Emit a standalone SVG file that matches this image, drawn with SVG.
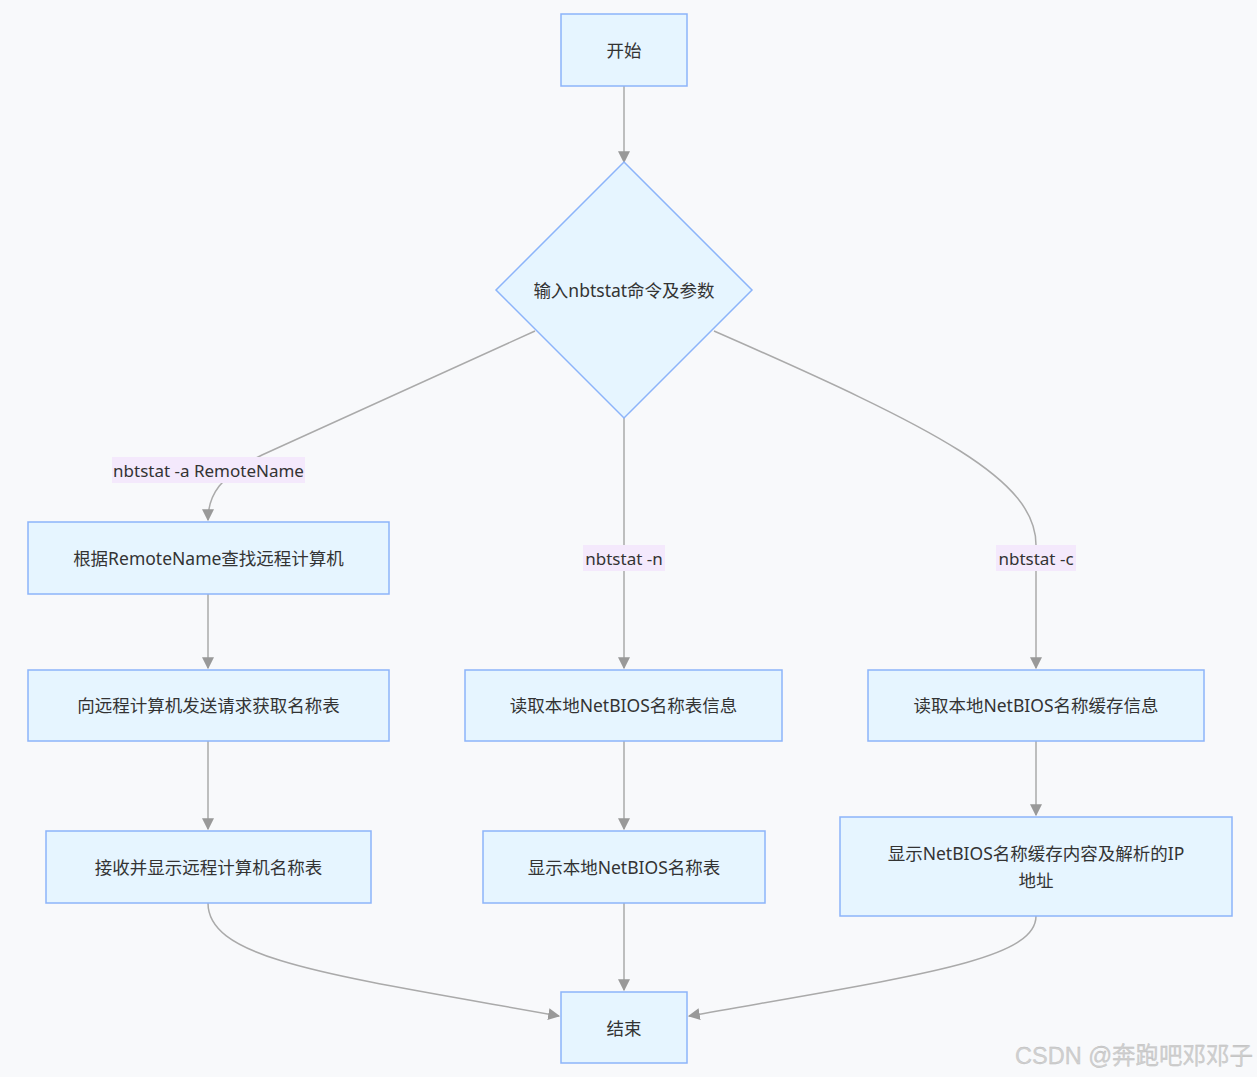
<svg xmlns="http://www.w3.org/2000/svg" width="1257" height="1077" viewBox="0 0 1257 1077">
<defs>
<style>
.node rect, .node polygon { fill:#e6f5ff; stroke:#8cb4fa; stroke-width:1.5; }
.node text { font-family:"Noto Sans","Noto Sans CJK SC",sans-serif; font-size:17.5px; fill:#333; text-anchor:middle; dominant-baseline:central; }
.edge { fill:none; stroke:#aaaaaa; stroke-width:1.5; }
.lbl rect { fill:#f4e9fc; }
.lbl text { font-family:"Noto Sans","Noto Sans CJK SC",sans-serif; font-size:17px; fill:#333; text-anchor:middle; dominant-baseline:central; }
</style>
<marker id="arr" viewBox="0 0 10 10" refX="9" refY="5" markerWidth="12" markerHeight="12" markerUnits="userSpaceOnUse" orient="auto">
<path d="M0,0 L10,5 L0,10 z" fill="#999999"/>
</marker>
</defs>
<rect width="1257" height="1077" fill="#f8f9fb"/>
<g id="connectors">
<path class="edge" d="M624,86 L624,162" marker-end="url(#arr)"/>
<path class="edge" d="M535,331 L262,455 C220,476 208,495 208,520" marker-end="url(#arr)"/>
<path class="edge" d="M624,418 L624,668" marker-end="url(#arr)"/>
<path class="edge" d="M714,331 C940,430 1036,480 1036,545 L1036,668" marker-end="url(#arr)"/>
<path class="edge" d="M208,594 L208,668" marker-end="url(#arr)"/>
<path class="edge" d="M208,741 L208,829" marker-end="url(#arr)"/>
<path class="edge" d="M624,741 L624,829" marker-end="url(#arr)"/>
<path class="edge" d="M1036,741 L1036,815" marker-end="url(#arr)"/>
<path class="edge" d="M208,903 C208,960 330,975 559,1016" marker-end="url(#arr)"/>
<path class="edge" d="M624,903 L624,990" marker-end="url(#arr)"/>
<path class="edge" d="M1036,916 C1036,960 920,975 689,1016" marker-end="url(#arr)"/>
<g class="lbl"><rect x="112" y="457" width="193" height="26"/><text x="208.5" y="470">nbtstat -a RemoteName</text></g>
<g class="lbl"><rect x="583" y="545" width="82" height="26"/><text x="624" y="558">nbtstat -n</text></g>
<g class="lbl"><rect x="996" y="545" width="80" height="26"/><text x="1036" y="558">nbtstat -c</text></g>
</g>
<g id="start" class="node"><rect x="561" y="14" width="126" height="72"/><text x="624" y="50">开始</text></g>
<g id="decision" class="node"><polygon points="624,162 752,290 624,418 496,290"/><text x="624" y="290">输入nbtstat命令及参数</text></g>
<g id="left1" class="node"><rect x="28" y="522" width="361" height="72"/><text x="208.5" y="558">根据RemoteName查找远程计算机</text></g>
<g id="left2" class="node"><rect x="28" y="670" width="361" height="71"/><text x="208.5" y="705">向远程计算机发送请求获取名称表</text></g>
<g id="left3" class="node"><rect x="46" y="831" width="325" height="72"/><text x="208.5" y="867">接收并显示远程计算机名称表</text></g>
<g id="mid1" class="node"><rect x="465" y="670" width="317" height="71"/><text x="623.5" y="705">读取本地NetBIOS名称表信息</text></g>
<g id="mid2" class="node"><rect x="483" y="831" width="282" height="72"/><text x="624" y="867">显示本地NetBIOS名称表</text></g>
<g id="right1" class="node"><rect x="868" y="670" width="336" height="71"/><text x="1036" y="705">读取本地NetBIOS名称缓存信息</text></g>
<g id="right2" class="node"><rect x="840" y="817" width="392" height="99"/><text x="1036" y="853">显示NetBIOS名称缓存内容及解析的IP</text><text x="1036" y="880">地址</text></g>
<g id="end" class="node"><rect x="561" y="992" width="126" height="71"/><text x="624" y="1028">结束</text></g>
<text x="1253" y="1064" font-family="'Liberation Sans','Noto Sans CJK SC',sans-serif" font-size="23.5" fill="#d0d0d0" stroke="#bbbbbb" stroke-width="0.3" text-anchor="end">CSDN @奔跑吧邓邓子</text>
</svg>
